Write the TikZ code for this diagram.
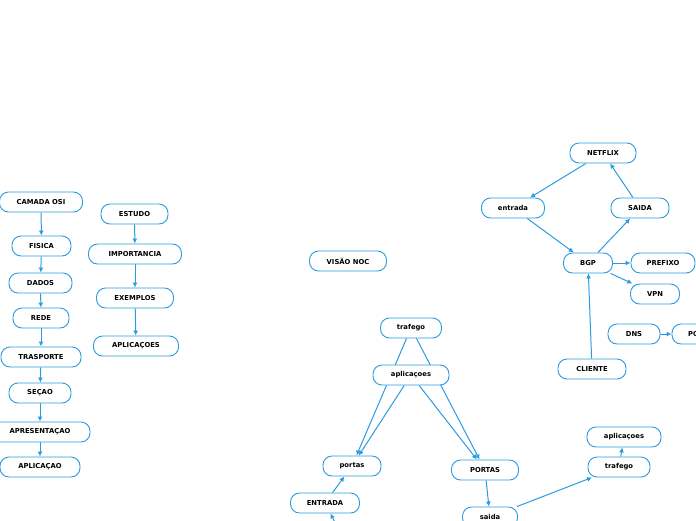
\documentclass[tikz,border=0pt]{standalone}
\usepackage{fontspec}
\setmainfont{DejaVu Sans}
\usetikzlibrary{arrows.meta,backgrounds}
\definecolor{mapblue}{RGB}{43,155,224}
\tikzset{
  topic/.style={draw=mapblue,line width=0.9pt,fill=white,rounded corners=9pt,
    minimum height=20pt,inner sep=0pt,font=\fontsize{6.8}{7}\selectfont\bfseries},
  link/.style={draw=mapblue,line width=1pt,-{Latex[length=5pt,width=5pt]}}
}
\begin{document}
\begin{tikzpicture}[x=1pt,y=-1pt]
\useasboundingbox (0,0) rectangle (696,520);
% modelo OSI
\node[topic,minimum width=83pt] (osi) at (41,202) {CAMADA OSI};
\node[topic,minimum width=59pt] (fisica) at (41.5,246) {FISICA};
\node[topic,minimum width=63pt] (dados) at (40.5,283) {DADOS};
\node[topic,minimum width=56pt] (rede) at (41,318) {REDE};
\node[topic,minimum width=80pt] (trasporte) at (41,357) {TRASPORTE};
\node[topic,minimum width=62pt] (secao) at (40,393) {SEÇAO};
\node[topic,minimum width=100pt] (apresentacao) at (40,432) {APRESENTAÇAO};
\node[topic,minimum width=80pt] (aplicacao) at (40,467) {APLICAÇAO};
% estudo
\node[topic,minimum width=67pt] (estudo) at (134.5,214) {ESTUDO};
\node[topic,minimum width=93pt] (importancia) at (135,254) {IMPORTANCIA};
\node[topic,minimum width=77pt] (exemplos) at (135,298) {EXEMPLOS};
\node[topic,minimum width=85pt] (aplicacoesA) at (136,346) {APLICAÇOES};
\node[topic,minimum width=77pt] (noc) at (348,261) {VISÃO NOC};
% trafego
\node[topic,minimum width=61pt] (trafegoA) at (411,328) {trafego};
\node[topic,minimum width=76pt] (aplicacoesB) at (411,375) {aplicaçoes};
\node[topic,minimum width=58pt] (portasA) at (352,466) {portas};
\node[topic,minimum width=69pt] (entradaA) at (325,503) {ENTRADA};
\node[topic,minimum width=67pt] (portasB) at (485,470) {PORTAS};
\node[topic,minimum width=55pt] (saida) at (490,517) {saida};
\node[topic,minimum width=62pt] (trafegoB) at (619,467) {trafego};
\node[topic,minimum width=74pt] (aplicacoesC) at (624,437) {aplicaçoes};
\coordinate (entradaIn) at (344,540);
% BGP
\node[topic,minimum width=66pt] (netflix) at (603,153) {NETFLIX};
\node[topic,minimum width=63pt] (entradaB) at (513,208) {entrada};
\node[topic,minimum width=58pt] (saidaB) at (640,208) {SAIDA};
\node[topic,minimum width=49pt] (bgp) at (588,263) {BGP};
\node[topic,minimum width=64pt] (prefixo) at (663,263) {PREFIXO};
\node[topic,minimum width=49pt] (vpn) at (655,294) {VPN};
\node[topic,minimum width=52pt] (dns) at (634,334) {DNS};
\node[topic,minimum width=62pt] (porta) at (703,334) {PORTAS};
\node[topic,minimum width=68pt] (cliente) at (592,369) {CLIENTE};
\begin{scope}[on background layer]
\draw[link] (osi) -- (fisica);
\draw[link] (fisica) -- (dados);
\draw[link] (dados) -- (rede);
\draw[link] (rede) -- (trasporte);
\draw[link] (trasporte) -- (secao);
\draw[link] (secao) -- (apresentacao);
\draw[link] (apresentacao) -- (aplicacao);
\draw[link] (estudo) -- (importancia);
\draw[link] (importancia) -- (exemplos);
\draw[link] (exemplos) -- (aplicacoesA);
\draw[link] (trafegoA) -- (portasA);
\draw[link] (trafegoA) -- (portasB);
\draw[link] (aplicacoesB) -- (portasA);
\draw[link] (aplicacoesB) -- (portasB);
\draw[link] (entradaA) -- (portasA);
\draw[link] (entradaIn) -- (entradaA);
\draw[link] (portasB) -- (saida);
\draw[link] (saida) -- (trafegoB);
\draw[link] (trafegoB) -- (aplicacoesC);
\draw[link] (netflix) -- (entradaB);
\draw[link] (entradaB) -- (bgp);
\draw[link] (bgp) -- (saidaB);
\draw[link] (saidaB) -- (netflix);
\draw[link] (bgp) -- (prefixo);
\draw[link] (bgp) -- (vpn);
\draw[link] (cliente) -- (bgp);
\draw[link] (dns) -- (porta);
\end{scope}
\end{tikzpicture}
\end{document}
